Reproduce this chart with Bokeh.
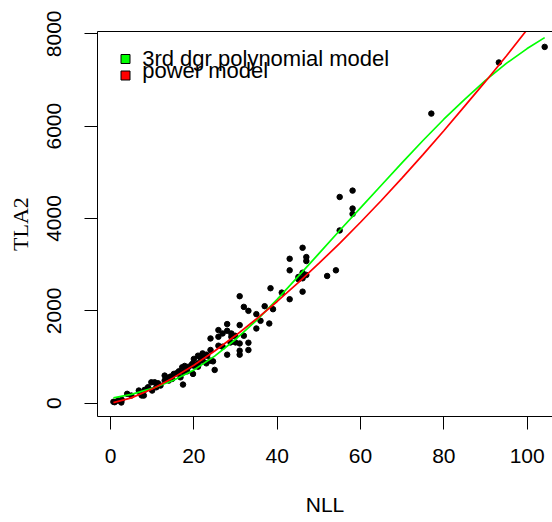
from bokeh.plotting import figure
from bokeh.models import Range1d, FixedTicker, LinearAxis, Label, BoxAnnotation
from bokeh.embed import file_html
from bokeh.resources import INLINE

# observed data (NLL vs TLA2)
nll = [0.7, 1.0, 1.8, 2.6, 2.7, 4.0, 5.0, 6.8, 7.2, 7.5, 8.0, 8.2, 9.0, 9.8, 10.6, 11.0,
       10.0, 11.4, 12.0, 13.0, 13.6, 13.0, 14.0, 14.4, 15.2, 14.8, 15.8, 16.4, 17.2,
       17.8, 16.8, 17.6, 18.4, 17.4, 18.8, 19.6, 19.8,
       20.0, 20.0, 21.0, 21.0, 21.0, 22.1, 22.1, 22.1, 23.0, 23.0, 24.0, 24.0, 24.0,
       25.0, 25.9, 25.9, 25.9, 26.9, 26.9, 28.0, 28.0, 28.0, 29.0, 29.0, 28.8, 29.9,
       30.0, 31.0, 31.0, 31.0, 31.0, 31.0, 32.0, 32.0, 33.1, 33.1, 33.1, 35.0, 35.0,
       36.0, 37.0, 38.1, 39.0, 21.6, 23.2, 24.6,
       38.4, 41.1, 43.0, 43.0, 43.0, 45.1, 45.1, 46.1, 46.1, 46.1, 46.1, 47.0, 47.0,
       47.0, 52.0, 54.1, 55.0, 55.0, 58.1, 58.1, 58.1,
       77.0, 93.2, 104.2]
tla2 = [30, 22, 58, 15, 73, 203, 166, 274, 203, 167, 166, 289, 345, 453, 453, 345,
        274, 431, 382, 598, 548, 490, 490, 576, 634, 526, 647, 690, 777,
        807, 561, 669, 690, 403, 792, 850, 634,
        813, 958, 863, 792, 1029, 921, 993, 1079, 863, 1051, 921, 1152, 1402,
        721, 1583, 1439, 1245, 1510, 1223, 1713, 1568, 1051, 1510, 1439, 1316, 1461,
        1316, 2317, 1691, 1294, 1137, 1051, 2086, 1461, 2000, 1310, 1152, 1929, 1618,
        1784, 2101, 1726, 2036, 979, 1029, 906,
        2490, 2395, 2252, 2878, 3128, 2734, 2684, 3366, 2826, 2705, 2416, 3165, 3079,
        2777, 2755, 2878, 4466, 3741, 4604, 4216, 4099,
        6272, 7379, 7717]

# fitted curves
poly_x = [0.7, 5, 10, 15, 20, 25, 30, 35, 40, 45, 50, 55, 60, 65, 70, 75, 80, 85,
          90, 95, 100, 104.2]
poly_y = [116, 190, 320, 490, 720, 1020, 1380, 1790, 2250, 2740, 3240, 3740, 4230,
          4720, 5210, 5690, 6150, 6580, 6990, 7360, 7680, 7918]
power_x = [0.7, 5, 10, 15, 20, 25, 30, 35, 40, 45, 50, 55, 60, 65, 70, 75, 80, 85,
           90, 95, 100, 104.2]
power_y = [11, 115, 308, 548, 823, 1130, 1465, 1823, 2203, 2606, 3026, 3463, 3919,
           4390, 4881, 5383, 5900, 6434, 6969, 7520, 8093, 8582]

x_ticks = [0, 20, 40, 60, 80, 100]
y_ticks = [0, 2000, 4000, 6000, 8000]
x_title = "NLL"
y_title = "TLA2"
legend_labels = ["3rd dgr polynomial model", "power model"]
legend_colors = ["#00FF00", "#FF0000"]

p = figure(width=552, height=522, output_backend="svg", toolbar_location=None,
           x_range=Range1d(-3.12, 106.08), y_range=Range1d(-288, 8050),
           min_border_left=97, min_border_right=0, min_border_top=31,
           min_border_bottom=106, x_axis_label=x_title, y_axis_label=y_title)
p.grid.visible = False
p.outline_line_color = None
p.background_fill_color = "white"
p.border_fill_color = "white"

for ax in (p.xaxis[0], p.yaxis[0]):
    ax.axis_line_color = "black"
    ax.axis_line_width = 1
    ax.major_tick_line_color = "black"
    ax.major_tick_line_width = 1
    ax.minor_tick_line_color = None
    ax.major_tick_out = 13
    ax.major_tick_in = 0
    ax.major_label_text_font = "Liberation Sans"
    ax.major_label_text_font_size = "21px"
    ax.major_label_text_color = "black"
    ax.axis_label_text_font_style = "normal"
    ax.axis_label_text_color = "black"

p.xaxis[0].ticker = FixedTicker(ticks=x_ticks)
p.yaxis[0].ticker = FixedTicker(ticks=y_ticks)
p.xaxis[0].major_label_standoff = 19
p.xaxis[0].axis_label_text_font = "Liberation Sans"
p.xaxis[0].axis_label_text_font_size = "21px"
p.xaxis[0].axis_label_standoff = 27
p.yaxis[0].major_label_standoff = 23
p.yaxis[0].major_label_orientation = "vertical"
p.yaxis[0].axis_label_text_font = "Liberation Serif"
p.yaxis[0].axis_label_text_font_size = "22px"
p.yaxis[0].axis_label_standoff = 12

top = LinearAxis(ticker=FixedTicker(ticks=[]), axis_line_color="black",
                 major_tick_line_color=None, minor_tick_line_color=None,
                 major_label_text_font_size="0px")
p.add_layout(top, "above")

p.scatter(nll, tla2, size=5.5, marker="circle", fill_color="black", line_color="black")
p.line(poly_x, poly_y, line_color=legend_colors[0], line_width=1.7)
p.line(power_x, power_y, line_color=legend_colors[1], line_width=1.7)

# legend (screen units relative to the frame)
box_bottoms = [353, 336.5]
text_middles = [357.7, 346.2]
for lab, col, bb, tm in zip(legend_labels, legend_colors, box_bottoms, text_middles):
    p.add_layout(BoxAnnotation(left=23.5, right=32.5, bottom=bb, top=bb + 9,
                               left_units="screen", right_units="screen",
                               bottom_units="screen", top_units="screen",
                               fill_color=col, fill_alpha=1, line_color="black",
                               line_width=1, line_alpha=1))
    p.add_layout(Label(x=44.7, y=tm, x_units="screen", y_units="screen", text=lab,
                       text_font="Liberation Sans", text_font_size="22px",
                       text_baseline="middle", text_color="black"))

open("out.html", "w").write(file_html(p, INLINE))
